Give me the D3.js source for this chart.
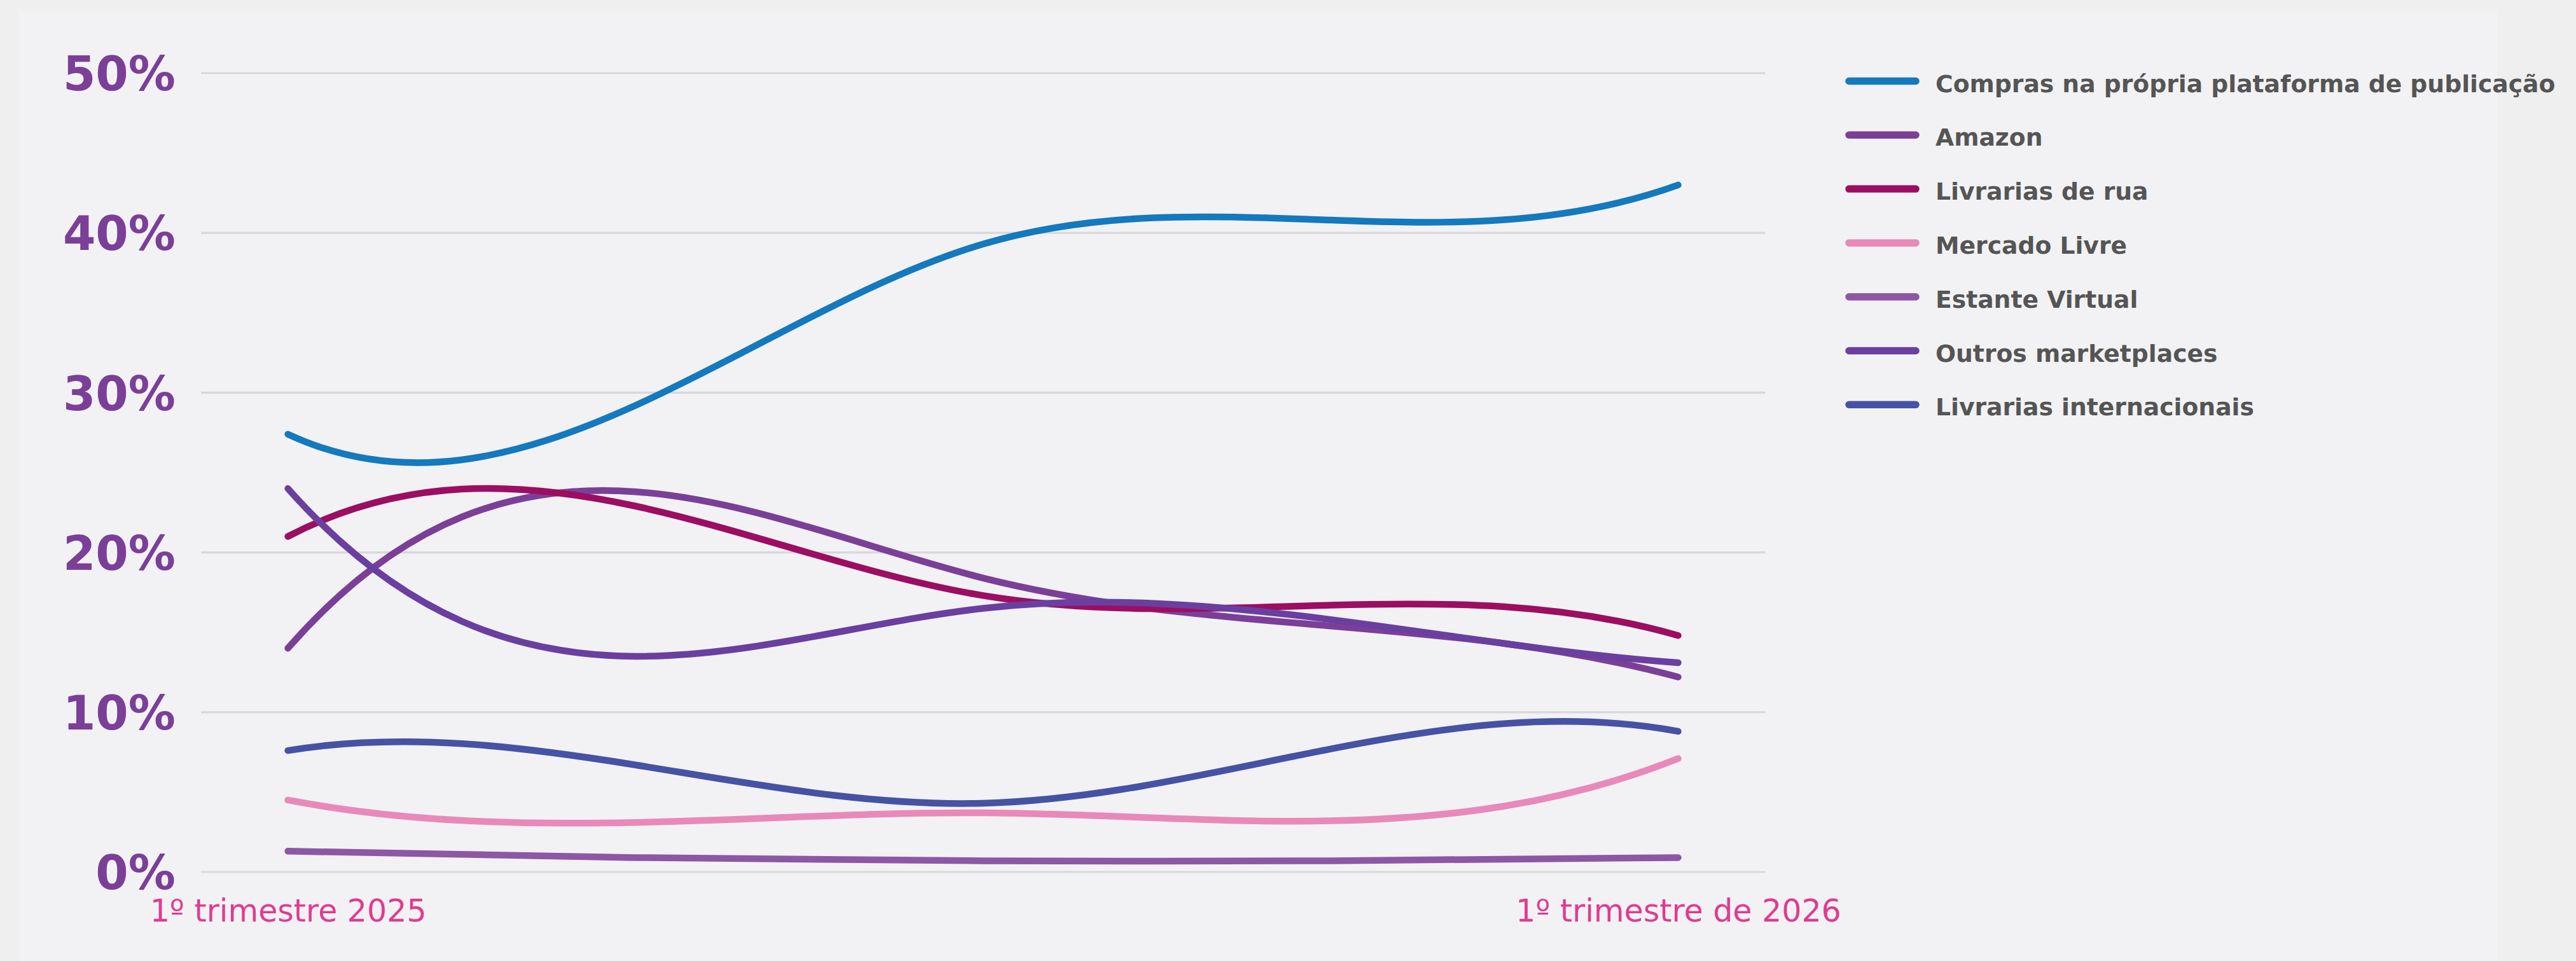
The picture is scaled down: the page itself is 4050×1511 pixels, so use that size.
<!DOCTYPE html>
<html>
<head>
<meta charset="utf-8">
<script src="https://cdn.jsdelivr.net/npm/d3@7"></script>
<style>
  html, body { margin: 0; padding: 0; background: #EFEFF0; }
  svg { display: block; }
</style>
</head>
<body>
<svg id="chart" width="4050" height="1511"></svg>
<script>
// ---------- data ----------
const quarters = ["1º trimestre 2025", "2º trimestre 2025", "3º trimestre 2025", "4º trimestre 2025", "1º trimestre de 2026"];
const xTickLabels = ["1º trimestre 2025", "1º trimestre de 2026"];
const yTicks = [0, 10, 20, 30, 40, 50];

const seriesNames = [
  "Compras na própria plataforma de publicação",
  "Amazon",
  "Livrarias de rua",
  "Mercado Livre",
  "Estante Virtual",
  "Outros marketplaces",
  "Livrarias internacionais"
];
const compras        = [27.4, 29.2, 39.3, 40.8, 43.0];
const amazon         = [14.0, 23.8, 18.4, 15.4, 12.2];
const livrariasRua   = [21.0, 22.9, 17.3, 16.7, 14.8];
const mercadoLivre   = [4.5, 3.1, 3.7, 3.2, 7.1];
const estanteVirtual = [1.3, 0.9, 0.7, 0.7, 0.9];
const outros         = [24.0, 13.5, 16.5, 15.8, 13.1];
const internacionais = [7.6, 6.7, 4.3, 7.7, 8.8];
const seriesValues = [compras, amazon, livrariasRua, mercadoLivre, estanteVirtual, outros, internacionais];
const seriesColors = ["#1479BD", "#7B3F98", "#9B0E62", "#E889B9", "#8D57A5", "#6A3FA0", "#4652A4"];

// ---------- custom smooth curve (cubic spline, not-a-knot ends) ----------
function notAKnotSlopes(xs, ys) {
  const n = xs.length;
  const h = [];
  for (let i = 0; i < n - 1; i++) h.push(xs[i + 1] - xs[i]);
  const A = Array.from({length: n}, () => new Array(n).fill(0));
  const b = new Array(n).fill(0);
  if (n >= 4) {
    A[0][0] = h[1]; A[0][1] = -(h[0] + h[1]); A[0][2] = h[0];
    A[n - 1][n - 3] = h[n - 2]; A[n - 1][n - 2] = -(h[n - 3] + h[n - 2]); A[n - 1][n - 1] = h[n - 3];
  } else {
    A[0][0] = 1; A[n - 1][n - 1] = 1;
  }
  for (let i = 1; i < n - 1; i++) {
    A[i][i - 1] = h[i - 1];
    A[i][i] = 2 * (h[i - 1] + h[i]);
    A[i][i + 1] = h[i];
    b[i] = 6 * ((ys[i + 1] - ys[i]) / h[i] - (ys[i] - ys[i - 1]) / h[i - 1]);
  }
  for (let c = 0; c < n; c++) {
    let p = c;
    for (let r = c + 1; r < n; r++) if (Math.abs(A[r][c]) > Math.abs(A[p][c])) p = r;
    [A[c], A[p]] = [A[p], A[c]]; [b[c], b[p]] = [b[p], b[c]];
    for (let r = c + 1; r < n; r++) {
      const f = A[r][c] / A[c][c];
      for (let k = c; k < n; k++) A[r][k] -= f * A[c][k];
      b[r] -= f * b[c];
    }
  }
  const M = new Array(n).fill(0);
  for (let r = n - 1; r >= 0; r--) {
    let s = b[r];
    for (let k = r + 1; k < n; k++) s -= A[r][k] * M[k];
    M[r] = s / A[r][r];
  }
  const d = [];
  for (let i = 0; i < n - 1; i++) d.push((ys[i + 1] - ys[i]) / h[i] - h[i] * (2 * M[i] + M[i + 1]) / 6);
  d.push((ys[n - 1] - ys[n - 2]) / h[n - 2] + h[n - 2] * (M[n - 2] + 2 * M[n - 1]) / 6);
  return d;
}
function curveSpline(context) {
  let xs, ys;
  return {
    areaStart() {}, areaEnd() {},
    lineStart() { xs = []; ys = []; },
    point(x, y) { xs.push(+x); ys.push(+y); },
    lineEnd() {
      const n = xs.length;
      if (!n) return;
      context.moveTo(xs[0], ys[0]);
      if (n === 1) return;
      if (n === 2) { context.lineTo(xs[1], ys[1]); return; }
      const d = notAKnotSlopes(xs, ys);
      for (let i = 0; i < n - 1; i++) {
        const hh = xs[i + 1] - xs[i];
        context.bezierCurveTo(xs[i] + hh / 3, ys[i] + d[i] * hh / 3,
                              xs[i + 1] - hh / 3, ys[i + 1] - d[i + 1] * hh / 3,
                              xs[i + 1], ys[i + 1]);
      }
    }
  };
}

// ---------- layout ----------
const svg = d3.select("#chart");
svg.append("rect").attr("x", 30).attr("y", 18).attr("width", 3896).attr("height", 1493).attr("fill", "#F2F2F4");

const plotLeft = 316, plotRight = 2775, plotTop = 115, plotBottom = 1371;
const x = d3.scalePoint().domain(quarters).range([plotLeft, plotRight]).padding(0.25);
const y = d3.scaleLinear().domain([0, 50]).range([plotBottom, plotTop]);

// gridlines
svg.append("g").selectAll("line").data(yTicks).join("line")
  .attr("x1", plotLeft).attr("x2", plotRight)
  .attr("y1", d => y(d)).attr("y2", d => y(d))
  .attr("stroke", "#D7D7DC").attr("stroke-width", 3.2);

// y axis labels
const yAxis = d3.axisLeft(y).tickValues(yTicks).tickFormat(d => d + "%").tickSize(0).tickPadding(40);
const gy = svg.append("g").attr("transform", `translate(${plotLeft},0)`).call(yAxis);
gy.select(".domain").remove();
gy.selectAll("text")
  .attr("fill", "#7B3F98")
  .style("font-family", "'DejaVu Sans', sans-serif")
  .style("font-weight", "bold")
  .style("font-size", "74px")
  .attr("dy", "0.36em");

// x axis labels
const xAxis = d3.axisBottom(x).tickValues([quarters[0], quarters[quarters.length - 1]])
  .tickFormat((d, i) => xTickLabels[i]).tickSize(0).tickPadding(0);
const gx = svg.append("g").attr("transform", `translate(0,${plotBottom})`).call(xAxis);
gx.select(".domain").remove();
gx.selectAll("text")
  .attr("fill", "#E23A8E")
  .attr("dy", 0).attr("y", 78)
  .style("font-family", "'DejaVu Sans', sans-serif")
  .style("font-size", "49px");

// lines
const line = d3.line().x((d, i) => x(quarters[i])).y(d => y(d)).curve(curveSpline);
svg.append("g").selectAll("path").data(seriesValues).join("path")
  .attr("d", d => line(d))
  .attr("fill", "none")
  .attr("stroke", (d, i) => seriesColors[i])
  .attr("stroke-width", 10.5)
  .attr("stroke-linecap", "round")
  .attr("stroke-linejoin", "round");

// legend
const legendX = 2907, legendY0 = 127.5, legendStep = 84.8;
const lg = svg.append("g").selectAll("g").data(seriesNames).join("g")
  .attr("transform", (d, i) => `translate(${legendX},${legendY0 + i * legendStep})`);
lg.append("line").attr("x1", 0).attr("x2", 105).attr("y1", 0).attr("y2", 0)
  .attr("stroke", (d, i) => seriesColors[i]).attr("stroke-width", 11.5).attr("stroke-linecap", "round");
lg.append("text").attr("x", 136).attr("y", 17)
  .text(d => d)
  .attr("fill", "#555555")
  .style("font-family", "'DejaVu Sans', sans-serif")
  .style("font-weight", "bold")
  .style("font-size", "37.7px");
</script>
</body>
</html>
